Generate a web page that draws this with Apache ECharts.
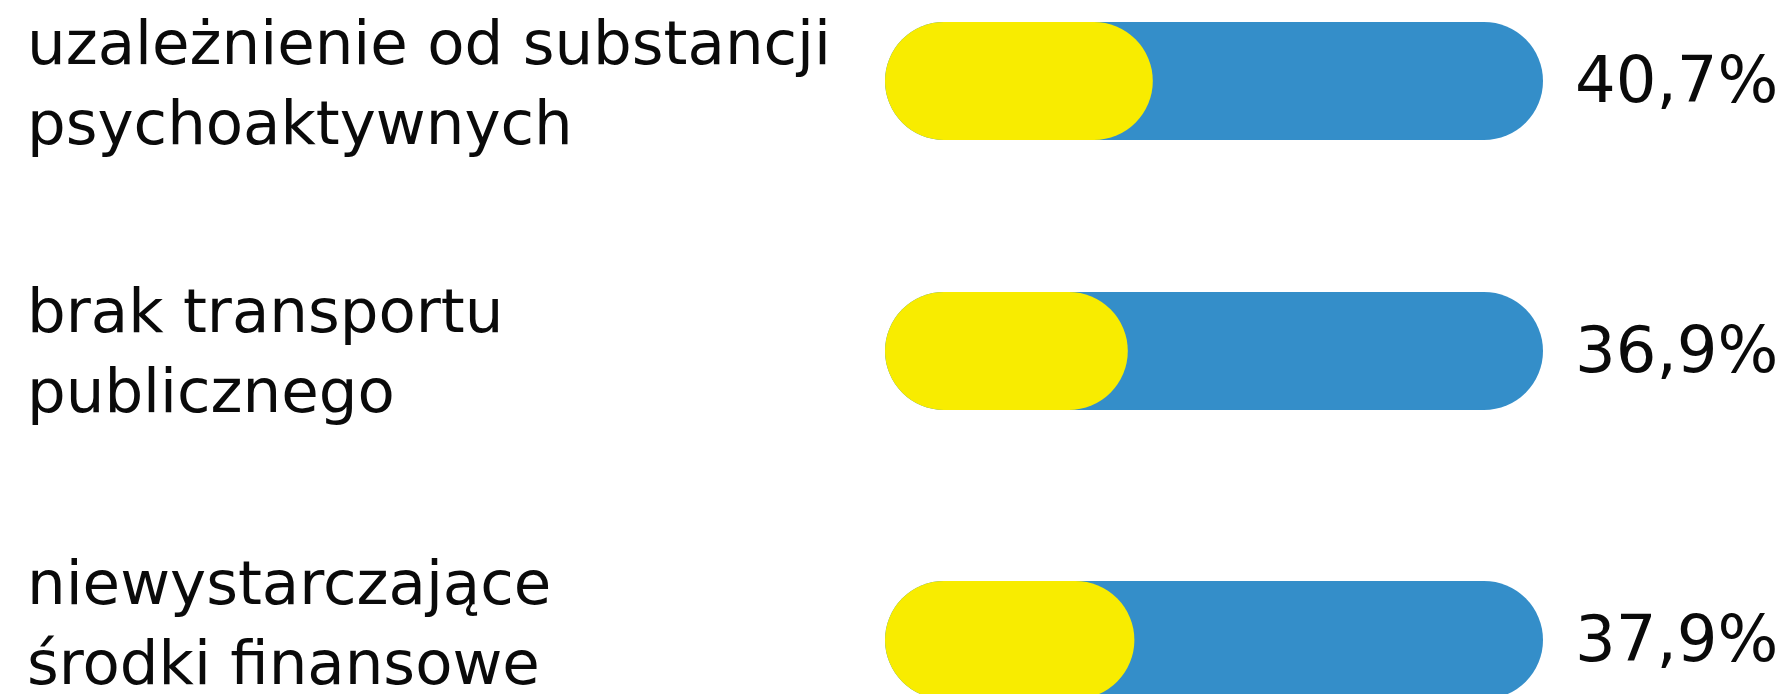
<!DOCTYPE html>
<html>
<head>
<meta charset="utf-8">
<script src="https://cdn.jsdelivr.net/npm/echarts@6/dist/echarts.min.js"></script>
<style>
  html, body { margin: 0; padding: 0; background: #fff; }
  #chart { width: 1788px; height: 694px; }
</style>
</head>
<body>
<div id="chart"></div>
<script>
const categories = [
    'uzależnienie od substancji\npsychoaktywnych',
    'brak transportu\npublicznego',
    'niewystarczające\nśrodki finansowe'
];
const values = [40.7, 36.9, 37.9];
const totals = [100, 100, 100];

// layout per row: bar centre and centre of the left label block
const rowCenters = [81, 351, 640];
const labelCenters = [88, 356, 628];
const barHeight = 118;
const fontFamily = '"DejaVu Sans", "Noto Sans", sans-serif';

const chart = echarts.init(document.getElementById('chart'));

const grids = [], xAxes = [], yAxes = [], series = [];
categories.forEach((cat, i) => {
    // bar row
    grids.push({
        left: 885, width: 658, top: rowCenters[i] - barHeight / 2, height: barHeight,
        outerBoundsMode: 'none', containLabel: false
    });
    xAxes.push({type: 'value', gridIndex: 2 * i, min: 0, max: 100, show: false});
    yAxes.push({type: 'category', gridIndex: 2 * i, data: [cat], show: false});
    series.push({
        type: 'bar', xAxisIndex: 2 * i, yAxisIndex: 2 * i, data: [totals[i]],
        barWidth: barHeight, barGap: '-100%', silent: true,
        itemStyle: {color: '#348ec9', borderRadius: barHeight / 2},
        label: {
            show: true, position: 'right', distance: 32, offset: [0, 4], color: '#0a0a0a',
            fontFamily: fontFamily, fontSize: 64,
            formatter: () => values[i].toFixed(1).replace('.', ',') + '%'
        }
    });
    series.push({
        type: 'bar', xAxisIndex: 2 * i, yAxisIndex: 2 * i, data: [values[i]],
        barWidth: barHeight, barGap: '-100%', silent: true,
        itemStyle: {color: '#f8ec00', borderRadius: barHeight / 2}
    });

    // category label row (own thin grid so the text can sit apart from the bar)
    grids.push({
        left: 885, width: 658, top: labelCenters[i] - 1, height: 2,
        outerBoundsMode: 'none', containLabel: false
    });
    xAxes.push({type: 'value', gridIndex: 2 * i + 1, min: 0, max: 100, show: false});
    yAxes.push({
        type: 'category', gridIndex: 2 * i + 1, data: [cat],
        axisLine: {show: false}, axisTick: {show: false}, splitLine: {show: false},
        axisLabel: {
            align: 'left', margin: 858, color: '#0a0a0a',
            fontFamily: fontFamily, fontSize: 61, lineHeight: 80
        }
    });
});

chart.setOption({
    animation: false,
    grid: grids,
    xAxis: xAxes,
    yAxis: yAxes,
    series: series
});
</script>
</body>
</html>
